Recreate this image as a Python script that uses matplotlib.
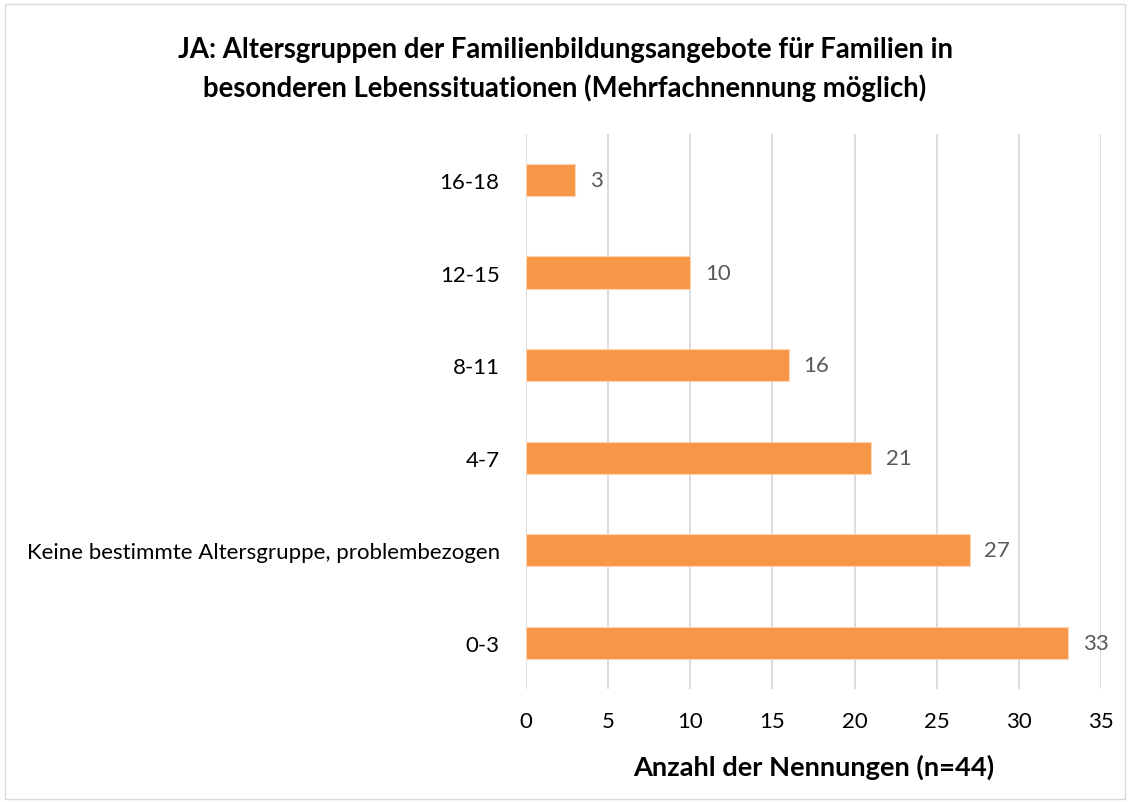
import matplotlib
matplotlib.use("Agg")
import matplotlib.pyplot as plt
from matplotlib.patches import Rectangle

plt.rcParams["font.family"] = ["Lato", "DejaVu Sans"]

categories = ["0-3", "Keine bestimmte Altersgruppe, problembezogen", "4-7", "8-11", "12-15", "16-18"]
counts = [33, 27, 21, 16, 10, 3]
x_ticks = [0, 5, 10, 15, 20, 25, 30, 35]

title = ("JA: Altersgruppen der Familienbildungsangebote für Familien in\n"
         "besonderen Lebenssituationen (Mehrfachnennung möglich)")
x_label = "Anzahl der Nennungen (n=44)"

bar_color = "#F79646"

fig = plt.figure(figsize=(11.3, 8.03), dpi=100)
ax = fig.add_axes([0.4655, 0.1407, 0.5088, 0.6913])

y = list(range(len(categories)))
ax.barh(y, counts, height=0.35, color=bar_color, edgecolor="#FBD5B5", linewidth=0.8, zorder=3)

for yi, v in zip(y, counts):
    ax.text(v + 0.9, yi, str(v), va="center", ha="left", fontsize=16, color="#595959")

ax.set_xlim(0, 35)
ax.set_ylim(-0.5, len(categories) - 0.5)
ax.set_xticks(x_ticks)
ax.set_yticks(y)
ax.set_yticklabels(categories)
ax.tick_params(axis="both", length=0, labelsize=16, colors="black")
ax.tick_params(axis="x", pad=16)
ax.tick_params(axis="y", pad=19)
ax.grid(axis="x", color="#D9D9D9", linewidth=1.3, zorder=0)
for s in ax.spines.values():
    s.set_visible(False)

ax.set_xlabel(x_label, fontsize=19.6, fontweight="bold", labelpad=16)
fig.suptitle(title, fontsize=19.8, fontweight="bold", y=0.914, va="center", linespacing=1.5)

fig.patches.append(Rectangle((0.004, 0.004), 0.992, 0.99, transform=fig.transFigure,
                             fill=False, edgecolor="#D9D9D9", linewidth=1))

fig.savefig("out.png", dpi=100)
